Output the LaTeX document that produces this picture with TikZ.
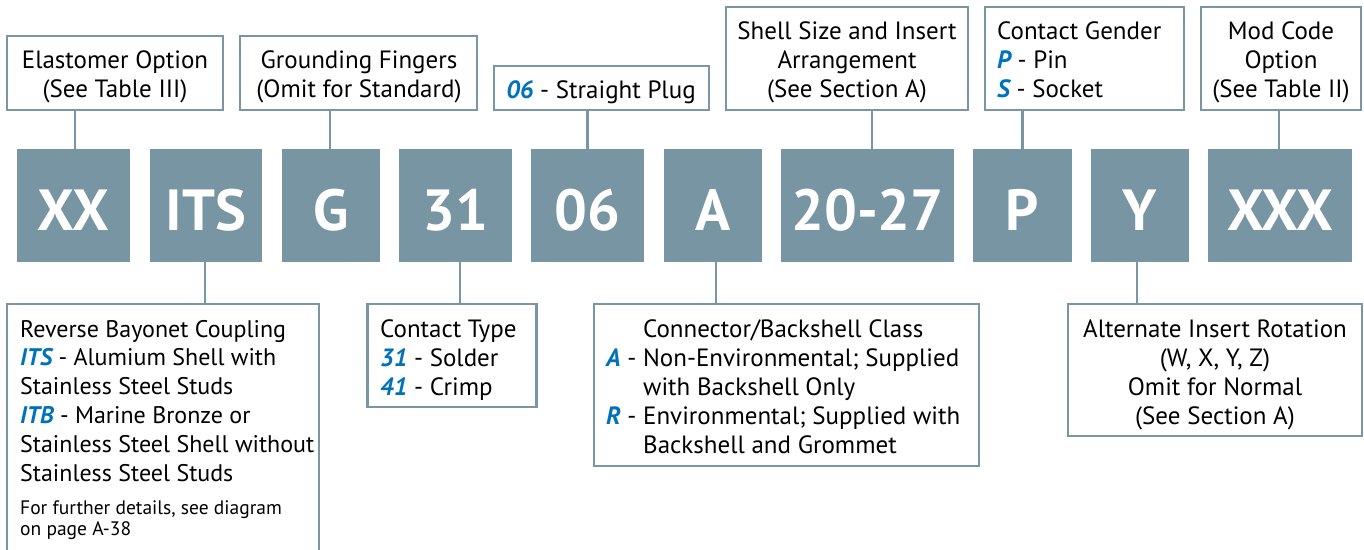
\documentclass[tikz,border=0pt]{standalone}
\usepackage{fontspec}
\setmainfont{PT Sans}
\definecolor{codefill}{RGB}{120,149,163}
\definecolor{framec}{RGB}{122,150,165}
\definecolor{keyblue}{RGB}{0,114,188}
\newcommand{\kb}[1]{\textcolor{keyblue}{\bfseries\itshape #1}}
\begin{document}
\begin{tikzpicture}[x=1pt,y=-1pt,
  frame/.style={draw=framec, line width=2.6pt, fill=white, inner sep=0pt},
  code/.style={fill=codefill, inner sep=0pt, text=white, text height=49pt, text depth=0pt,
               minimum height=113pt, font=\fontsize{58}{58}\selectfont\bfseries},
  link/.style={draw=framec, line width=2.6pt},
  txt/.style={inner sep=0pt, font=\fontsize{25}{29}\selectfont},
  txtrev/.style={inner sep=0pt, font=\fontsize{24}{28.8}\selectfont},
  small/.style={inner sep=0pt, font=\fontsize{19.5}{21}\selectfont},
]
\useasboundingbox (0,0) rectangle (1364,549);
\clip (0,0) rectangle (1364,549);

% code boxes
\node[code, minimum width=113pt] (xx)  at (73.5,205.5)  {XX};
\node[code, minimum width=112pt] (its) at (206,205.5)   {ITS};
\node[code, minimum width=98pt]  (g)   at (331,205.5)   {G};
\node[code, minimum width=113pt] (c31) at (455.5,205.5) {31};
\node[code, minimum width=113pt] (c06) at (587.5,205.5) {06};
\node[code, minimum width=98pt]  (ca)  at (713,205.5)   {A};
\node[code, minimum width=173pt] (sz)  at (867.5,205.5) {20-27};
\node[code, minimum width=99pt]  (cp)  at (1022.5,205.5){P};
\node[code, minimum width=98pt]  (cy)  at (1140,205.5)  {Y};
\node[code, minimum width=144pt] (xxx) at (1280,205.5)  {XXX};

% top boxes
\node[frame, minimum width=216pt, minimum height=74pt]  (elast)  at (115,73)    {};
\node[frame, minimum width=237pt, minimum height=74pt]  (ground) at (358.5,73)  {};
\node[frame, minimum width=215pt, minimum height=44pt]  (plug)   at (601.5,88)  {};
\node[frame, minimum width=242pt, minimum height=103pt] (shell)  at (847,58.5)  {};
\node[frame, minimum width=199pt, minimum height=103pt] (gender) at (1084.5,58.5){};
\node[frame, minimum width=160pt, minimum height=103pt] (mod)    at (1281,58.5) {};

% bottom boxes
\node[frame, minimum width=312pt, minimum height=296pt] (rev)   at (163,452)    {};
\node[frame, minimum width=169pt, minimum height=103pt] (ctype) at (452,355.5)  {};
\node[frame, minimum width=385pt, minimum height=162pt] (cls)   at (786.5,385)  {};
\node[frame, minimum width=294pt, minimum height=132pt] (rot)   at (1215,370)   {};

% connectors
\draw[link] ([xshift=1.5pt]xx.north)  -- ([xshift=1.5pt]xx.north |- elast.south);
\draw[link] ([xshift=-1pt]g.north)    -- ([xshift=-1pt]g.north |- ground.south);
\draw[link] (c06.north)               -- (c06.north |- plug.south);
\draw[link] ([xshift=4.5pt]sz.north)  -- ([xshift=4.5pt]sz.north |- shell.south);
\draw[link] (cp.north)                -- (cp.north |- gender.south);
\draw[link] ([xshift=-1pt]xxx.north)  -- ([xshift=-1pt]xxx.north |- mod.south);
\draw[link] ([xshift=-1pt]its.south)  -- ([xshift=-1pt]its.south |- rev.north);
\draw[link] ([xshift=4.5pt]c31.south) -- ([xshift=4.5pt]c31.south |- ctype.north);
\draw[link] ([xshift=3pt]ca.south)    -- ([xshift=3pt]ca.south |- cls.north);
\draw[link] ([xshift=-3pt]cy.south)   -- ([xshift=-3pt]cy.south |- rot.north);

% top texts
\node[txt, anchor=base] (telast) at (115,68)
  {\begin{tabular}[t]{@{}c@{}}Elastomer Option\\(See Table III)\end{tabular}};
\node[txt, anchor=base] (tground) at (359,68)
  {\begin{tabular}[t]{@{}c@{}}Grounding Fingers\\(Omit for Standard)\end{tabular}};
\node[txt, anchor=base] (tplug) at (601,98) {\kb{06} - Straight Plug};
\node[txt, anchor=base] (tshell) at (847,39)
  {\begin{tabular}[t]{@{}c@{}}Shell Size and Insert\\Arrangement\\(See Section A)\end{tabular}};
\node[txt, anchor=base west] (tgender) at (997,39)
  {\begin{tabular}[t]{@{}l@{}}Contact Gender\\\kb{P} - Pin\\\kb{S} - Socket\end{tabular}};
\node[txt, anchor=base] (tmod) at (1281,39)
  {\begin{tabular}[t]{@{}c@{}}Mod Code\\Option\\(See Table II)\end{tabular}};

% bottom texts
\node[txtrev, anchor=base west] (trev) at (20,337)
  {\begin{tabular}[t]{@{}l@{}}Reverse Bayonet Coupling\\\kb{ITS} - Alumium Shell with\\Stainless Steel Studs\\\kb{ITB} - Marine Bronze or\\Stainless Steel Shell without\\Stainless Steel Studs\end{tabular}};
\node[small, anchor=base west] (trevnote) at (20,514)
  {\begin{tabular}[t]{@{}l@{}}For further details, see diagram\\on page A-38\end{tabular}};
\node[txt, anchor=base west] (tctype) at (380,337)
  {\begin{tabular}[t]{@{}l@{}}Contact Type\\\kb{31} - Solder\\\kb{41} - Crimp\end{tabular}};
\node[txt, anchor=base west] (tcls) at (606,337)
  {\begin{tabular}[t]{@{}l@{ }l@{}}\multicolumn{2}{@{}c@{}}{Connector/Backshell Class}\\
   \kb{A} - & Non-Environmental; Supplied\\ & with Backshell Only\\
   \kb{R} - & Environmental; Supplied with\\ & Backshell and Grommet\end{tabular}};
\node[txt, anchor=base] (trot) at (1215,337)
  {\begin{tabular}[t]{@{}c@{}}Alternate Insert Rotation\\(W, X, Y, Z)\\Omit for Normal\\(See Section A)\end{tabular}};
\end{tikzpicture}
\end{document}
